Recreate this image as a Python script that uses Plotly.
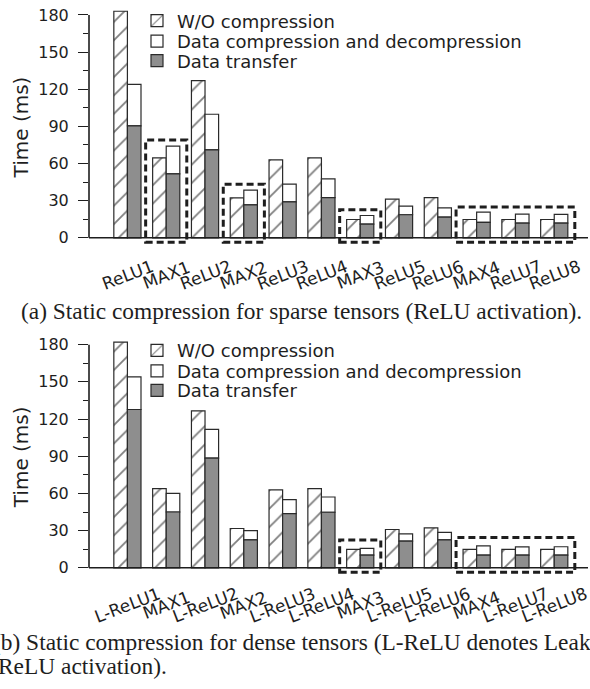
import plotly.graph_objects as go

# ---------------- data ----------------
cats_a = ["ReLU1", "MAX1", "ReLU2", "MAX2", "ReLU3", "ReLU4", "MAX3",
          "ReLU5", "ReLU6", "MAX4", "ReLU7", "ReLU8"]
cats_b = ["L-ReLU1", "MAX1", "L-ReLU2", "MAX2", "L-ReLU3", "L-ReLU4", "MAX3",
          "L-ReLU5", "L-ReLU6", "MAX4", "L-ReLU7", "L-ReLU8"]

# (a) sparse tensors
wo_a = [183, 64.6, 127, 32.3, 63, 64.6, 14.8, 31.2, 32.5, 14.8, 14.8, 14.8]
total_a = [124, 74, 99.8, 38.5, 43.3, 47.6, 18, 25.6, 24.2, 20.7, 19.1, 19]
transfer_a = [90.4, 51.6, 71, 26.6, 29, 32.5, 11, 18.6, 16.7, 12.4, 11.9, 11.9]

# (b) dense tensors
wo_b = [182, 63.9, 126.6, 31.7, 62.8, 63.9, 14.8, 30.9, 32.2, 14.8, 14.8, 14.8]
total_b = [154, 60, 111.6, 30, 55, 57.1, 15.6, 27.4, 28.5, 17.7, 16.9, 17]
transfer_b = [127.7, 45, 88.5, 22.5, 43.7, 44.8, 10.2, 21.5, 22.5, 10.2, 10.2, 10.2]

# highlighted (dashed) groups: (first index, last index, box top in ms)
boxes_a = [(1, 1, 79), (3, 3, 43.3), (6, 6, 22.6), (9, 11, 24.8)]
boxes_b = [(6, 6, 22.5), (9, 11, 24.5)]

y_ticks = [0, 30, 60, 90, 120, 150, 180]

names = ["W/O compression", "Data compression and decompression", "Data transfer"]
caption_a = "(a) Static compression for sparse tensors (ReLU activation)."
caption_b1 = "(b) Static compression for dense tensors (L-ReLU denotes Leaky"
caption_b2 = "ReLU activation)."

# ---------------- styling ----------------
SANS = "DejaVu Sans"
SERIF = "Liberation Serif"
INK = "#1e1e1e"
GRAY = "#8e8e8e"
EDGE = "#2a2a2a"

W, H = 590, 689
ML, MR, MT, MB = 89, 2, 10, 114.5
PH = H - MT - MB


def py(px):
    return (H - MB - px) / PH


def pxx(px):
    return (px - ML) / (W - ML - MR)


fig = go.Figure()


def add_panel(cats, wo, total, transfer, xa, ya, legends):
    codec = [t - d for t, d in zip(total, transfer)]
    fig.add_trace(go.Bar(
        x=cats, y=wo, name=names[0], offsetgroup="wo",
        xaxis=xa, yaxis=ya, legend=legends[0],
        marker=dict(color="white", line=dict(color=EDGE, width=1.2),
                    pattern=dict(shape="/", size=13, solidity=0.14,
                                 fgcolor="#000000", bgcolor="white",
                                 fillmode="overlay")),
    ))
    fig.add_trace(go.Bar(
        x=cats, y=codec, base=transfer, name=names[1], offsetgroup="c",
        xaxis=xa, yaxis=ya, legend=legends[1],
        marker=dict(color="white", line=dict(color=EDGE, width=1.2)),
    ))
    fig.add_trace(go.Bar(
        x=cats, y=transfer, name=names[2], offsetgroup="c",
        xaxis=xa, yaxis=ya, legend=legends[2],
        marker=dict(color=GRAY, line=dict(color=EDGE, width=1.2)),
    ))


add_panel(cats_a, wo_a, total_a, transfer_a, "x", "y",
          ["legend", "legend2", "legend3"])
add_panel(cats_b, wo_b, total_b, transfer_b, "x2", "y2",
          ["legend4", "legend5", "legend6"])

xcommon = dict(type="category", showticklabels=False, showgrid=False,
               zeroline=False, showline=False, ticks="", automargin=False,
               range=[-0.99, 11.87])
ycommon = dict(range=[-5, 184], tickvals=y_ticks, ticks="outside",
               ticklen=10, tickwidth=1.3, tickcolor=INK, showline=False,
               showgrid=False, zeroline=False, ticklabelstandoff=6,
               automargin=False,
               tickfont=dict(family=SANS, size=16, color=INK),
               minor=dict(dtick=15, tick0=0, ticks="outside", ticklen=5,
                          tickwidth=1.3, tickcolor=INK),
               title=dict(text="Time (ms)", standoff=4,
                          font=dict(family=SANS, size=20, color=INK)))

top_lo = py(244.2)
bot_hi = py(340)


def leg(ypx):
    return dict(x=pxx(137), y=py(ypx), xanchor="left", yanchor="middle",
                bgcolor="rgba(0,0,0,0)", borderwidth=0,
                font=dict(family=SANS, size=18, color=INK))


fig.update_layout(
    width=W, height=H,
    margin=dict(l=ML, r=MR, t=MT, b=MB, autoexpand=False),
    paper_bgcolor="white", plot_bgcolor="white",
    barmode="group", bargap=0.3, bargroupgap=0,
    xaxis=dict(domain=[0, 1], anchor="y", **xcommon),
    yaxis=dict(domain=[top_lo, 1], anchor="x", **ycommon),
    xaxis2=dict(domain=[0, 1], anchor="y2", **xcommon),
    yaxis2=dict(domain=[0, bot_hi], anchor="x2", **ycommon),
    legend=leg(21), legend2=leg(41.5), legend3=leg(61),
    legend4=leg(351), legend5=leg(371.5), legend6=leg(391),
    showlegend=True,
)

shapes = []
annotations = []


def panel_decor(cats, boxes, xa, ya):
    # axis lines
    shapes.append(dict(type="line", xref=f"{xa} domain", yref=ya,
                       x0=0, x1=1, y0=0, y1=0,
                       line=dict(color=INK, width=1.6)))
    shapes.append(dict(type="line", xref=f"{xa} domain", yref=ya,
                       x0=0, x1=0, y0=0, y1=180,
                       line=dict(color=INK, width=1.6)))
    # dashed highlight boxes
    for i0, i1, top in boxes:
        shapes.append(dict(type="rect", xref=xa, yref=ya,
                           x0=i0 - 0.53, x1=i1 + 0.53, y0=-3.6, y1=top,
                           line=dict(color=INK, width=3, dash="7px,4px"),
                           fillcolor="rgba(0,0,0,0)", layer="above"))
    # rotated, centred category labels
    for c in cats:
        annotations.append(dict(x=c, y=0, xref=xa, yref=ya, text=c,
                                showarrow=False, textangle=-21,
                                xanchor="center", yanchor="middle",
                                yshift=-37,
                                font=dict(family=SANS, size=17, color=INK)))


panel_decor(cats_a, boxes_a, "x", "y")
panel_decor(cats_b, boxes_b, "x2", "y2")

annotations.append(dict(text=caption_a, xref="paper", yref="paper",
                        x=pxx(301), y=py(311.5), xanchor="center",
                        yanchor="middle", showarrow=False,
                        font=dict(family=SERIF, size=23.4, color=INK)))
annotations.append(dict(text=caption_b1, xref="paper", yref="paper",
                        x=pxx(-9), y=py(643), xanchor="left",
                        yanchor="middle", showarrow=False,
                        font=dict(family=SERIF, size=23.4, color=INK)))
annotations.append(dict(text=caption_b2, xref="paper", yref="paper",
                        x=pxx(-4), y=py(667), xanchor="left",
                        yanchor="middle", showarrow=False,
                        font=dict(family=SERIF, size=23.4, color=INK)))

fig.update_layout(shapes=shapes, annotations=annotations)

# remove the browser's default 8px page margin so the figure sits at (0, 0)
fig.write_html("out.html",
               config={"displayModeBar": False},
               post_script="document.body.style.margin='0';"
                           "document.body.style.overflow='hidden';")
